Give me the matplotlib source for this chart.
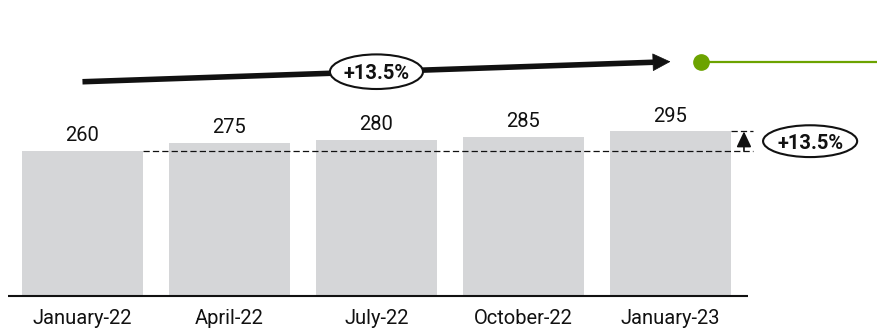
import matplotlib
matplotlib.use("Agg")
import matplotlib.pyplot as plt
from matplotlib.patches import Ellipse

months = ["January-22", "April-22", "July-22", "October-22", "January-23"]
values = [260, 275, 280, 285, 295]

bar_color = "#d5d6d8"
ink = "#111111"
green = "#6ca300"

plt.rcParams["font.family"] = ["Roboto", "DejaVu Sans"]

fig = plt.figure(figsize=(8.77, 3.28), dpi=100)
ax = fig.add_axes([0, 0, 1, 1])
ax.set_xlim(-0.561, 5.405)
ax.set_ylim(-57.3, 530.5)
ax.axis("off")

n = len(values)
x = list(range(n))
width = 0.823
ax.bar(x, values, width=width, color=bar_color, zorder=1)

for xi, v, m in zip(x, values, months):
    ax.annotate(f"{v}", (xi, v), xytext=(0, 7), textcoords="offset points",
                ha="center", va="baseline", fontsize=14.5, color=ink)
    ax.text(xi, -50, m, ha="center", va="baseline", fontsize=14.5, color=ink)

# baseline
ax.plot([-0.507, 4.527], [0, 0], color=ink, lw=1.5, solid_capstyle="butt", zorder=3)

# difference between first and last bar
first, last = values[0], values[-1]
pct = (last - first) / first * 100
pct_label = f"+{pct:.1f}%"
x_end = n - 1
dash = (0, (5, 2.5))
ax.plot([0 + width / 2, x_end + 0.56], [first, first], color=ink, lw=0.9, ls=dash, zorder=2)
ax.plot([x_end + width / 2, x_end + 0.56], [last, last], color=ink, lw=0.9, ls=dash, zorder=2)
ax.annotate("", xy=(x_end + 0.5, last), xytext=(x_end + 0.5, first),
            arrowprops=dict(arrowstyle="-|>,head_length=0.95,head_width=0.45",
                            mutation_scale=10, lw=1.2, color=ink, shrinkA=0, shrinkB=0))
ax.add_patch(Ellipse((x_end + 0.95, (first + last) / 2), 0.64, 57,
                     facecolor="white", edgecolor=ink, lw=1.5, zorder=4))
ax.text(x_end + 0.95, (first + last) / 2, pct_label, ha="center", va="center_baseline",
        fontsize=14.5, fontweight="bold", color=ink, zorder=5)

# trend arrow across the top
y0, y1 = 384, 420
head_x = x_end - 0.117
head_y = y0 + (y1 - y0) * head_x / x_end
ax.plot([0, head_x], [y0, head_y], color=ink, lw=4, solid_capstyle="butt", zorder=3)
ax.annotate("", xy=(x_end, y1), xytext=(head_x, head_y),
            arrowprops=dict(arrowstyle="-|>,head_length=1.2,head_width=0.6",
                            mutation_scale=10, lw=0.5, color=ink, shrinkA=0, shrinkB=0))
mid_x = x_end / 2
ax.add_patch(Ellipse((mid_x, (y0 + y1) / 2), 0.633, 62,
                     facecolor="white", edgecolor=ink, lw=1.5, zorder=4))
ax.text(mid_x, (y0 + y1) / 2, pct_label, ha="center", va="center_baseline",
        fontsize=14.5, fontweight="bold", color=ink, zorder=5)

# green marker line
ax.plot([x_end + 0.21, 5.41], [y1, y1], color=green, lw=1.6, solid_capstyle="butt")
ax.plot(x_end + 0.21, y1, "o", ms=11, color=green)

fig.savefig("out.png", dpi=100)
